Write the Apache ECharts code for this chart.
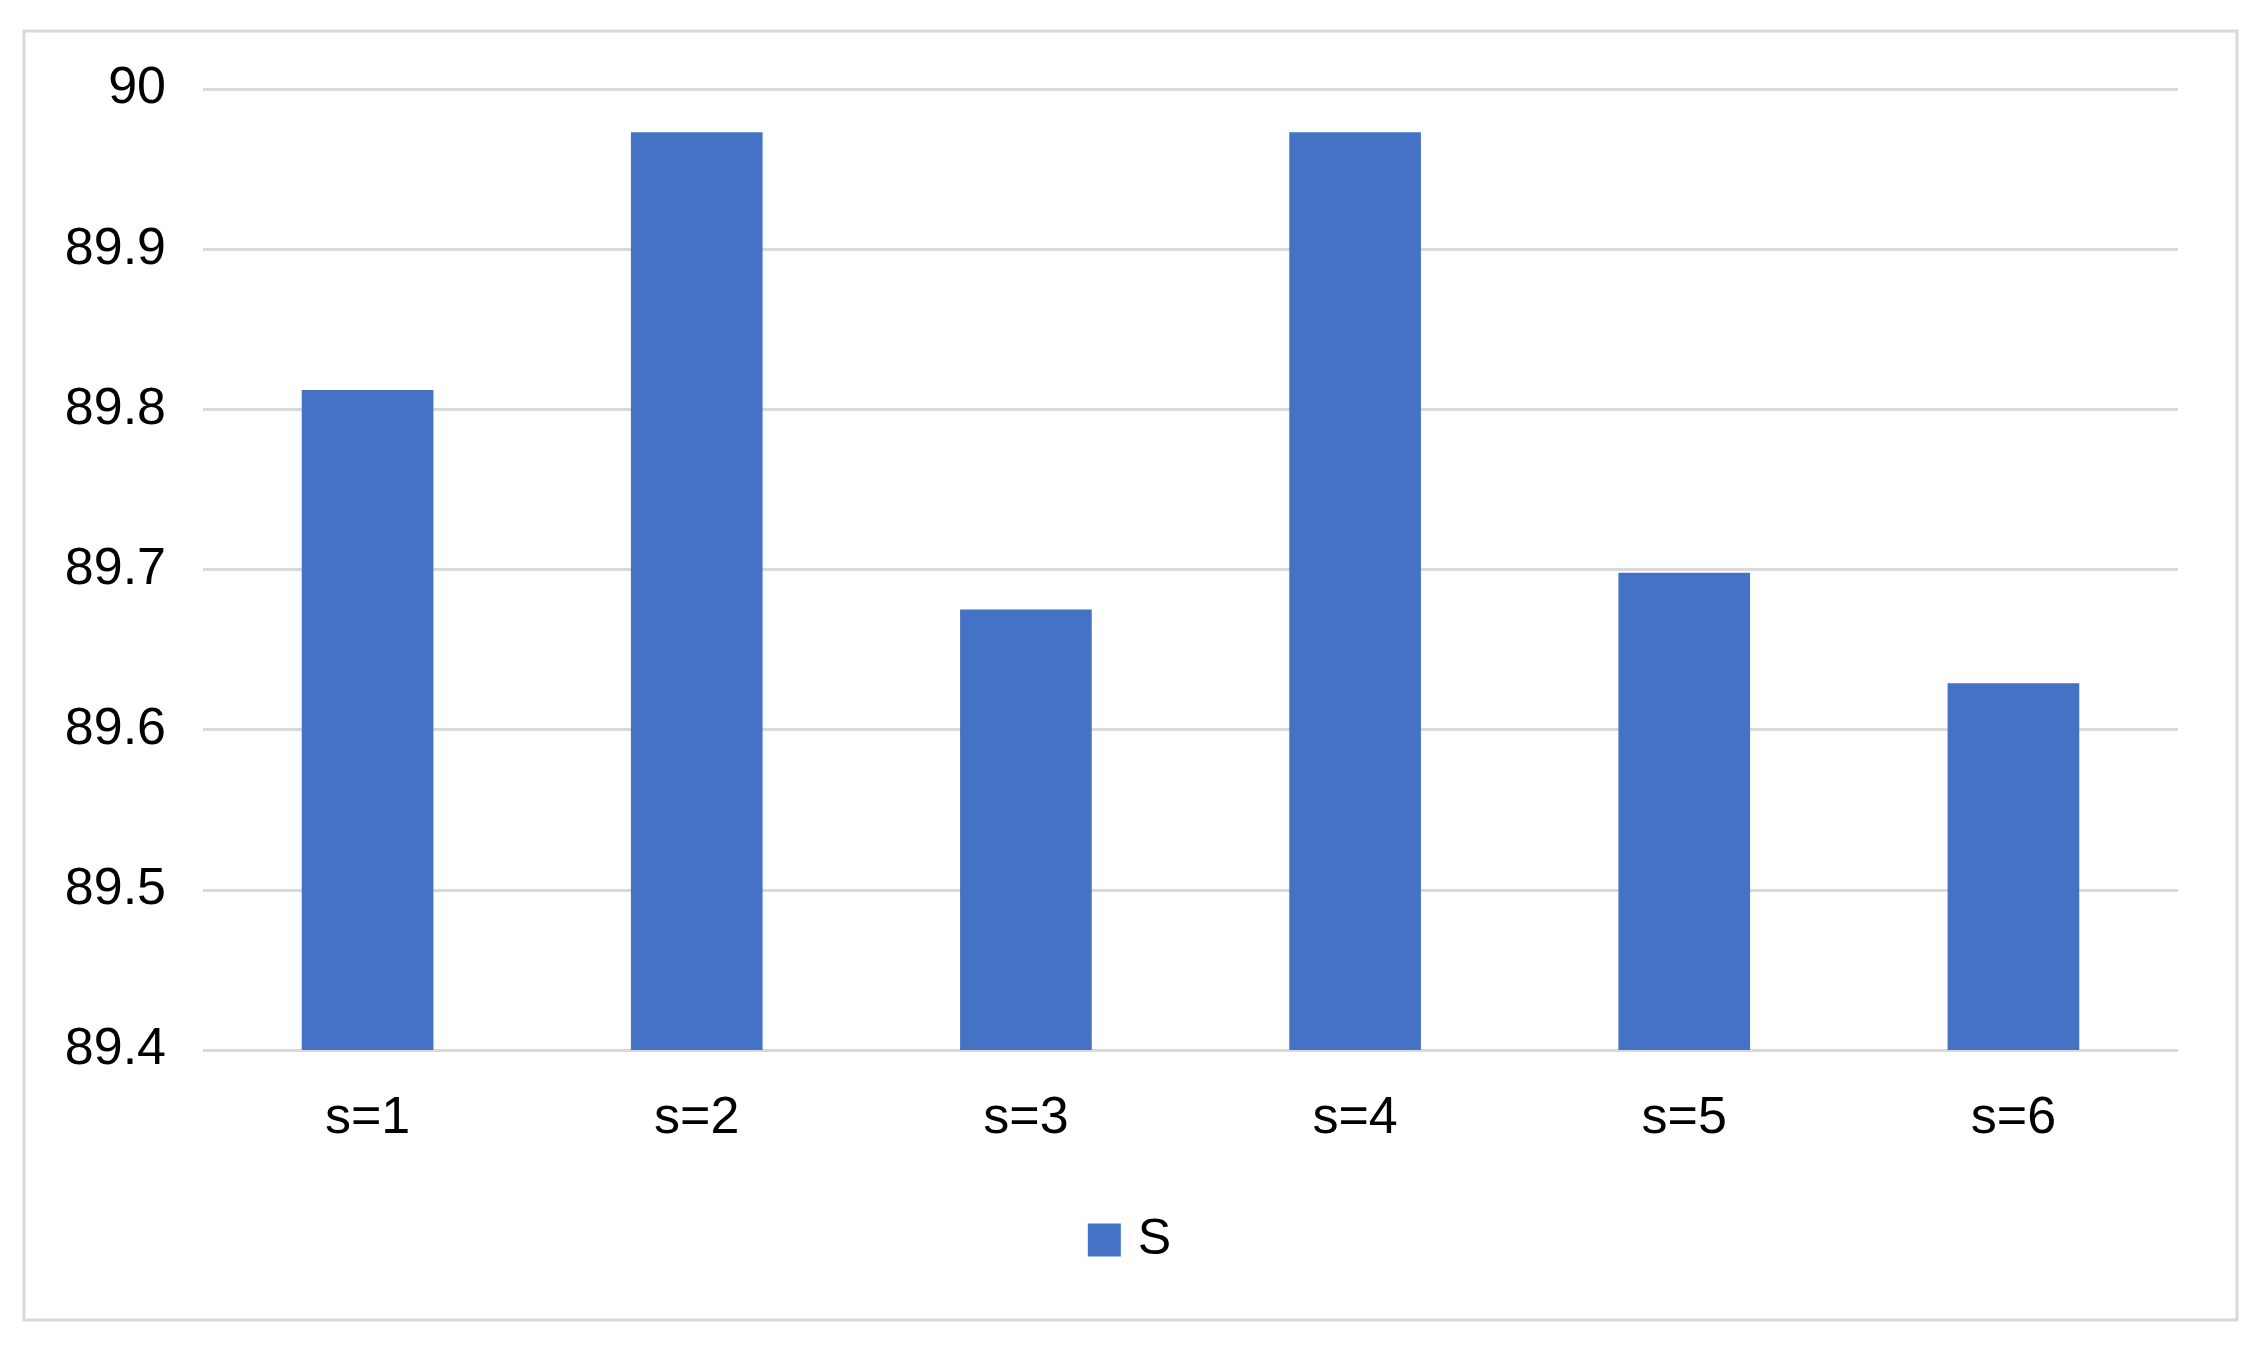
<!DOCTYPE html>
<html>
<head>
<meta charset="utf-8">
<script src="https://cdn.jsdelivr.net/npm/echarts@6/dist/echarts.min.js"></script>
<style>
html,body{margin:0;padding:0;background:#fff;}
#chart{width:2259px;height:1350px;}
</style>
</head>
<body>
<div id="chart"></div>
<script>
const categories = ['s=1', 's=2', 's=3', 's=4', 's=5', 's=6'];
const seriesName = 'S';
const values = [89.812, 89.973, 89.675, 89.973, 89.698, 89.629];
const yMin = 89.4, yMax = 90, yInterval = 0.1;

const chart = echarts.init(document.getElementById('chart'));
chart.setOption({
  backgroundColor: '#ffffff',
  animation: false,
  graphic: [{
    type: 'rect',
    shape: { x: 24, y: 31, width: 2213, height: 1289 },
    style: { fill: 'none', stroke: '#d9d9d9', lineWidth: 3 },
    silent: true
  }],
  grid: { left: 203, right: 81, top: 89, bottom: 300, containLabel: false },
  legend: {
    data: [seriesName],
    top: 1210,
    left: 'center',
    icon: 'rect',
    itemWidth: 33,
    itemHeight: 33,
    textStyle: { fontFamily: 'Liberation Sans, Arial, sans-serif', fontSize: 50, color: '#000', padding: [0, 0, 0, 12] }
  },
  xAxis: {
    type: 'category',
    data: categories,
    axisLine: { show: false },
    axisTick: { show: false },
    axisLabel: { fontFamily: 'Liberation Sans, Arial, sans-serif', fontSize: 52, color: '#000', margin: 43 }
  },
  yAxis: {
    type: 'value',
    min: yMin,
    max: yMax,
    interval: yInterval,
    axisLine: { show: false },
    axisTick: { show: false },
    splitLine: { lineStyle: { color: '#d9d9d9', width: 3 } },
    axisLabel: {
      fontFamily: 'Liberation Sans, Arial, sans-serif', fontSize: 52, color: '#000', margin: 37,
      formatter: v => String(Math.round(v * 10) / 10)
    }
  },
  series: [{
    name: seriesName,
    type: 'bar',
    data: values,
    barCategoryGap: '60%',
    itemStyle: { color: '#4472C4' }
  }]
});
</script>
</body>
</html>
